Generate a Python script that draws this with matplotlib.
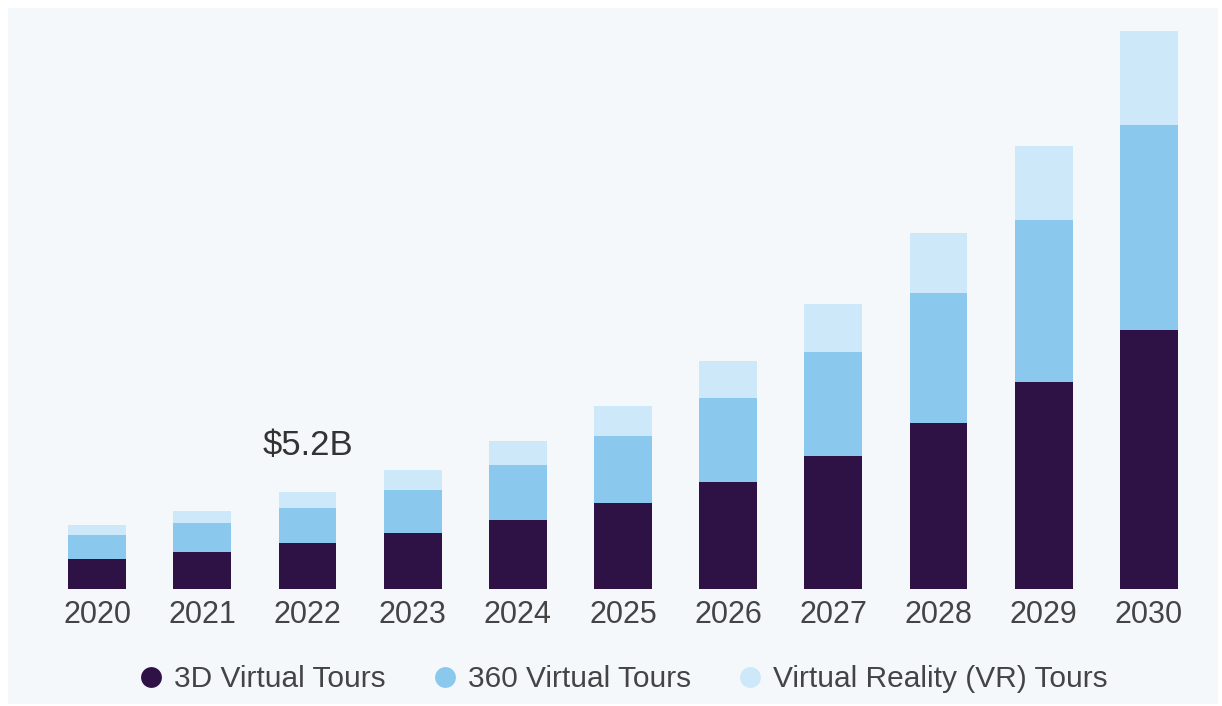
import numpy as np
import matplotlib.pyplot as plt
from matplotlib.patches import Rectangle
from matplotlib.lines import Line2D

# Market size by segment, USD billion
years = ["2020", "2021", "2022", "2023", "2024", "2025", "2026", "2027", "2028", "2029", "2030"]
tours_3d = [1.61, 1.98, 2.47, 3.00, 3.70, 4.61, 5.74, 7.13, 8.90, 11.10, 13.88]
tours_360 = [1.29, 1.55, 1.88, 2.30, 2.95, 3.59, 4.50, 5.57, 6.97, 8.68, 10.99]
tours_vr = [0.54, 0.64, 0.86, 1.07, 1.29, 1.61, 1.98, 2.57, 3.22, 3.97, 5.04]
labels = ["3D Virtual Tours", "360 Virtual Tours", "Virtual Reality (VR) Tours"]
colors = ["#2f1245", "#8ac8ee", "#cde8f8"]
callout = "$5.2B"

plt.rcParams['font.family'] = ['Liberation Sans', 'DejaVu Sans']
bg = "#f4f8fb"

fig = plt.figure(figsize=(12.22, 7.06), dpi=100, facecolor="white")
fig.patches.append(Rectangle((8 / 1222, 2 / 706), 1210 / 1222, 696 / 706,
                             transform=fig.transFigure, facecolor=bg,
                             edgecolor="none", zorder=-10))

ax = fig.add_axes([34 / 1222, 117 / 706, 1178 / 1222, 569 / 706])
ax.patch.set_alpha(0)

x = np.arange(len(years))
w = 0.55
bottom = np.zeros(len(years))
for vals, c in zip([tours_3d, tours_360, tours_vr], colors):
    ax.bar(x, vals, w, bottom=bottom, color=c, edgecolor="none")
    bottom += np.array(vals)

total = bottom
ax.text(x[2], total[2] + 1.6, callout, ha="center", va="bottom",
        fontsize=25, color="#333333")

ax.set_xlim(-0.6, 10.6)
ax.set_ylim(0, total[-1] * (589 - 20) / (589 - 31))
ax.set_xticks(x)
ax.set_xticklabels(years, fontsize=22, color="#444444")
ax.tick_params(axis="x", length=0, pad=8)
ax.set_yticks([])
for s in ax.spines.values():
    s.set_visible(False)

handles = [Line2D([0], [0], marker="o", linestyle="none", markersize=15,
                  markerfacecolor=c, markeredgecolor="none") for c in colors]
fig.legend(handles, labels, loc="center", bbox_to_anchor=(622 / 1222, 1 - 679 / 706),
           ncol=3, frameon=False, fontsize=21.5, labelcolor="#444444",
           handletextpad=0.25, columnspacing=1.5, handlelength=1.0)

fig.savefig("out.png", dpi=100, facecolor="white")
